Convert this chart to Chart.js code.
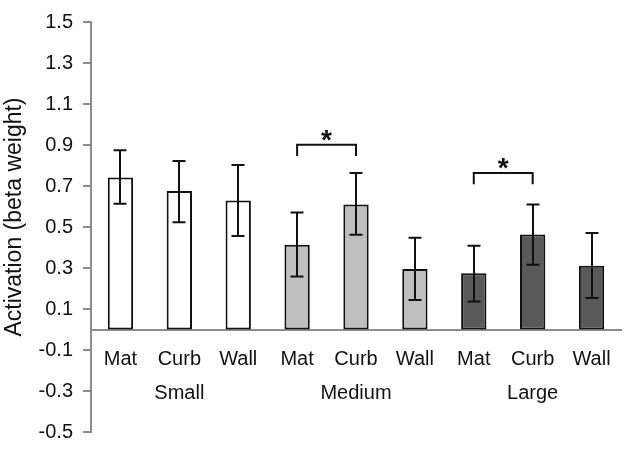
<!DOCTYPE html>
<html><head><meta charset="utf-8">
<script src="https://cdn.jsdelivr.net/npm/chart.js@4"></script>
<style>html,body{margin:0;padding:0;background:#fff}#wrap{width:629px;height:454px}</style>
</head><body><div id="wrap"><canvas id="c" width="629" height="454"></canvas></div>
<script>
// ---- data ----
const conditions = ['Mat', 'Curb', 'Wall', 'Mat', 'Curb', 'Wall', 'Mat', 'Curb', 'Wall'];
const groups = ['', 'Small', '', '', 'Medium', '', '', 'Large', ''];
const activation = [0.741, 0.676, 0.629, 0.413, 0.610, 0.295, 0.274, 0.463, 0.311];
const errorHigh = [0.874, 0.822, 0.802, 0.571, 0.763, 0.448, 0.409, 0.610, 0.471];
const errorLow = [0.613, 0.523, 0.456, 0.259, 0.462, 0.144, 0.137, 0.316, 0.154];
const yTicks = [-0.5, -0.3, -0.1, 0.1, 0.3, 0.5, 0.7, 0.9, 1.1, 1.3, 1.5];
const yTitle = 'Activation (beta weight)';
const bracketFrom = [3, 6];
const bracketTo = [4, 7];
const bracketTop = [0.901, 0.764];
const bracketLegEnd = [0.846, 0.709];
const sigLabel = ['*', '*'];

// ---- styles ----
const barColors = ['#ffffff', '#ffffff', '#ffffff', '#bfbfbf', '#bfbfbf', '#bfbfbf', '#595959', '#595959', '#595959'];
const FONT = "'Liberation Sans', Arial, sans-serif";
const AXIS = '#8c8c8c';
const INK = '#111';

const overlay = {
  id: 'overlay',
  afterDatasetsDraw(chart) {
    const ctx = chart.ctx, x = chart.scales.x, y = chart.scales.y;
    ctx.save();
    ctx.strokeStyle = INK;
    ctx.lineWidth = 2;
    ctx.lineCap = 'butt';
    const cap = 6.5;
    activation.forEach((v, i) => {
      const px = Math.round(x.getPixelForValue(i));
      const yh = y.getPixelForValue(errorHigh[i]);
      const yl = y.getPixelForValue(errorLow[i]);
      ctx.beginPath();
      ctx.moveTo(px, yh); ctx.lineTo(px, yl);
      ctx.moveTo(px - cap, yh); ctx.lineTo(px + cap, yh);
      ctx.moveTo(px - cap, yl); ctx.lineTo(px + cap, yl);
      ctx.stroke();
    });
    bracketFrom.forEach((f, k) => {
      const x1 = x.getPixelForValue(f), x2 = x.getPixelForValue(bracketTo[k]);
      const yt = y.getPixelForValue(bracketTop[k]), yb = y.getPixelForValue(bracketLegEnd[k]);
      ctx.beginPath();
      ctx.moveTo(x1, yb); ctx.lineTo(x1, yt); ctx.lineTo(x2, yt); ctx.lineTo(x2, yb);
      ctx.stroke();
      ctx.fillStyle = INK;
      ctx.font = 'bold 28px ' + FONT;
      ctx.textAlign = 'center';
      ctx.textBaseline = 'alphabetic';
      ctx.fillText(sigLabel[k], (x1 + x2) / 2, yt + 4);
    });
    // y-axis title
    ctx.translate(15, 217);
    ctx.rotate(-Math.PI / 2);
    ctx.font = '23px ' + FONT;
    ctx.fillStyle = INK;
    ctx.textAlign = 'center';
    ctx.textBaseline = 'middle';
    ctx.fillText(yTitle, 0, 0);
    ctx.restore();
  }
};

new Chart(document.getElementById('c'), {
  type: 'bar',
  data: {
    labels: conditions.map((c, i) => [c, groups[i]]),
    datasets: [{
      data: activation,
      backgroundColor: barColors,
      borderColor: INK,
      borderWidth: 2,
      borderSkipped: false,
      barPercentage: 0.43,
      categoryPercentage: 1
    }]
  },
  options: {
    responsive: false,
    animation: false,
    layout: { padding: { top: 13, right: 8, bottom: 17, left: 0 } },
    plugins: { legend: { display: false }, tooltip: { enabled: false } },
    scales: {
      x: {
        position: { y: 0 },
        grid: { drawOnChartArea: false, drawTicks: false },
        border: { color: AXIS, width: 2 },
        ticks: { color: INK, font: { size: 20, family: FONT, lineHeight: 1.7 }, padding: 13, maxRotation: 0, autoSkip: false }
      },
      y: {
        min: -0.5, max: 1.5,
        afterBuildTicks: s => { s.ticks = yTicks.map(v => ({ value: v })); },
        afterFit: s => { s.width = 91; },
        grid: { drawOnChartArea: false, drawTicks: true, tickLength: 8, color: AXIS, lineWidth: 2 },
        border: { color: AXIS, width: 2 },
        ticks: { color: INK, padding: 10, font: { size: 20, family: FONT }, callback: v => v.toFixed(1) },
        title: { display: false }
      }
    }
  },
  plugins: [overlay]
});
</script>
</body></html>
